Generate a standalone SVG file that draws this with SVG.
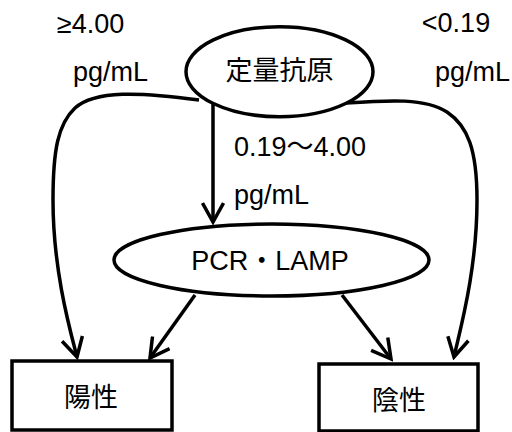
<svg xmlns="http://www.w3.org/2000/svg" width="512" height="432" viewBox="0 0 512 432">
<style>
.shape{fill:#fff;stroke:#000;stroke-width:3.5}
.conn{fill:none;stroke:#000;stroke-width:3.5;marker-end:url(#arr)}
text{font-family:"Liberation Sans","Noto Sans CJK JP",sans-serif;font-size:27px;fill:#000}
.c{text-anchor:middle}
</style>
<defs>
<marker id="arr" viewBox="0 0 24 24" refX="21" refY="12" markerWidth="24" markerHeight="24" markerUnits="userSpaceOnUse" orient="auto">
<path d="M2,1.5 L21,12 L2,22.5" fill="none" stroke="#000" stroke-width="3.5"/>
</marker>
</defs>
<rect width="512" height="432" fill="#fff"/>
<g id="connectors">
<path class="conn" d="M213,104 L213,222"/>
<path class="conn" d="M199,100 C140,92 95,90 75,108 C58,124 53,150 53,200 C53,270 70,330 77,357"/>
<path class="conn" d="M346,103 C390,100 425,98 447,112 C468,126 477,150 477,200 C477,270 460,330 454,357"/>
<path class="conn" d="M195,295 L150,358"/>
<path class="conn" d="M342,295 L391,359"/>
</g>
<g id="labels">
<text class="c" x="90.5" y="33">≥4.00</text>
<text class="c" x="110.5" y="81">pg/mL</text>
<text class="c" x="456" y="32">&lt;0.19</text>
<text class="c" x="472.5" y="81">pg/mL</text>
<text x="234" y="156">0.19～4.00</text>
<text x="234" y="204">pg/mL</text>
</g>
<g id="antigen">
<ellipse class="shape" cx="279.5" cy="71.7" rx="93.5" ry="45"/>
<text class="c" x="279.5" y="80">定量抗原</text>
</g>
<g id="pcr">
<ellipse class="shape" cx="271.5" cy="260" rx="157.5" ry="36"/>
<text class="c" x="270" y="270">PCR・LAMP</text>
</g>
<g id="positive">
<rect class="shape" x="12" y="361" width="160" height="69"/>
<text class="c" x="91" y="407">陽性</text>
</g>
<g id="negative">
<rect class="shape" x="319" y="364" width="159" height="67"/>
<text class="c" x="399" y="410">陰性</text>
</g>
</svg>
